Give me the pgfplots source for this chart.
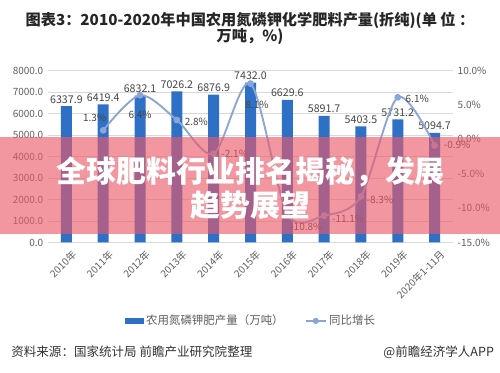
\documentclass[border=0pt]{standalone}
\usepackage{fontspec}
\setmainfont{Noto Sans CJK SC}
\usepackage{pgfplots}
\usepackage{pgfplotstable}
\pgfplotsset{compat=1.18}
\definecolor{barblue}{RGB}{46,112,198}
\definecolor{linecol}{RGB}{140,165,215}
\definecolor{gridgray}{RGB}{217,217,217}
\definecolor{ticktext}{RGB}{95,95,95}
\definecolor{labeltext}{RGB}{70,70,70}
\definecolor{bannercol}{RGB}{235,89,105}

\pgfplotstableread{
x y
0 6337.9
1 6419.4
2 6832.1
3 7026.2
4 6876.9
5 7432.0
6 6629.6
7 5891.7
8 5403.5
9 5731.2
10 5094.7
}\prodtable

\pgfplotstableread{
x y dx dy
1 1.3 -6.4 9.75
2 6.4 0 -15
3 2.8 14.6 -1.7
4 -2.1 15.75 0
5 8.1 4.9 -15.75
6 -10.8 14.25 -9.75
7 -11.1 18 -2.25
8 -8.3 14.25 -2.25
9 6.1 14.6 -1.5
10 -0.9 16.9 0.75
}\growthtable

\begin{document}
\begin{tikzpicture}
\useasboundingbox (0pt,0pt) rectangle (375pt,279.75pt);
\fill[white] (0pt,0pt) rectangle (375pt,279.75pt);
\node[font=\fontsize{11.4}{13}\selectfont\bfseries, text=black!85] at (187.5pt,264.75pt) {图表3：2010-2020年中国农用氮磷钾化学肥料产量(折纯)(单 位 ：};
\node[font=\fontsize{11.4}{13}\selectfont\bfseries, text=black!85] at (187.5pt,252pt) {万吨，\%)};

\begin{axis}[at={(36pt,97.875pt)}, anchor=south west, scale only axis,
  width=303.75pt, height=129pt,
  xmin=-0.5, xmax=10.5, ymin=0, ymax=8000,
  ybar, bar width=8.25pt,
  xtick={0,1,...,10},
  xticklabels={2010年,2011年,2012年,2013年,2014年,2015年,2016年,2017年,2018年,2019年,2020年1-11月},
  xticklabel style={rotate=45, anchor=north east, font=\fontsize{7.5}{9}\selectfont, text=ticktext, inner sep=1pt, xshift=3pt, yshift=-2pt},
  ytick={0,1000,...,8000},
  yticklabel style={font=\fontsize{7.5}{9}\selectfont, text=ticktext, /pgf/number format/.cd, fixed, fixed zerofill, precision=1, 1000 sep={}, assume math mode=true},
  ymajorgrids, grid style={gridgray, line width=0.6pt},
  axis line style={draw=none}, tick style={draw=none},
  nodes near coords={\pgfmathprintnumber[fixed,fixed zerofill,precision=1,1000 sep={},assume math mode=true]{\pgfplotspointmeta}},
  every node near coord/.append style={font=\fontsize{8}{9}\selectfont, text=labeltext, inner sep=2pt},
]
\addplot[fill=barblue, draw=none] table[x=x, y=y] {\prodtable};
\end{axis}

\begin{axis}[at={(36pt,97.875pt)}, anchor=south west, scale only axis,
  width=303.75pt, height=129pt,
  xmin=-0.5, xmax=10.5, ymin=-15, ymax=10,
  hide x axis,
  axis line style={draw=none}, tick style={draw=none},
  yticklabel pos=right,
  ytick={-15,-10,...,10},
  yticklabel={\pgfmathprintnumber[fixed,fixed zerofill,precision=1,assume math mode=true]{\tick}\%},
  yticklabel style={font=\fontsize{7.5}{9}\selectfont, text=ticktext},
  legend style={at={(0.502,-0.456)}, anchor=center, draw=none, fill=none, legend columns=2,
    font=\fontsize{8.6}{10}\selectfont, text=ticktext,
    /tikz/every even column/.append style={column sep=14pt}},
]
\addlegendimage{legend image code/.code={\fill[barblue] (0pt,-1.9pt) rectangle (13.5pt,1.9pt);}}
\addlegendentry{农用氮磷钾肥产量（万吨）}
\addplot[smooth, linecol, line width=1.4pt, mark=*, mark size=1.8pt, mark options={fill=linecol, draw=linecol},
  legend image code/.code={\draw[linecol, line width=1.1pt] (0pt,0pt) -- (15pt,0pt); \fill[linecol] (7.5pt,0pt) circle (1.6pt);},
  visualization depends on={\thisrow{dx} \as \dx},
  visualization depends on={\thisrow{dy} \as \dy},
  nodes near coords={\pgfmathprintnumber[fixed,precision=1,assume math mode=true]{\pgfplotspointmeta}\%},
  every node near coord/.append style={anchor=center, xshift=\dx pt, yshift=\dy pt, font=\fontsize{7.5}{9}\selectfont, text=labeltext},
] table[x=x, y=y] {\growthtable};
\addlegendentry{同比增长}
\end{axis}

\fill[bannercol, opacity=0.63] (0pt,104.25pt) rectangle (375pt,177pt);
\node[text=white, font=\fontsize{22.4}{24}\selectfont\bfseries] at (188pt,150.75pt) {全球肥料行业排名揭秘，发展};
\node[text=white, font=\fontsize{22.4}{24}\selectfont\bfseries] at (188pt,126pt) {趋势展望};

\node[anchor=west, font=\fontsize{9.4}{11}\selectfont, text=black!80] at (5pt,15.75pt) {资料来源：国家统计局 前瞻产业研究院整理};
\node[anchor=east, font=\fontsize{9.4}{11}\selectfont, text=black!80] at (374pt,15.75pt) {@前瞻经济学人APP};
\end{tikzpicture}
\end{document}
